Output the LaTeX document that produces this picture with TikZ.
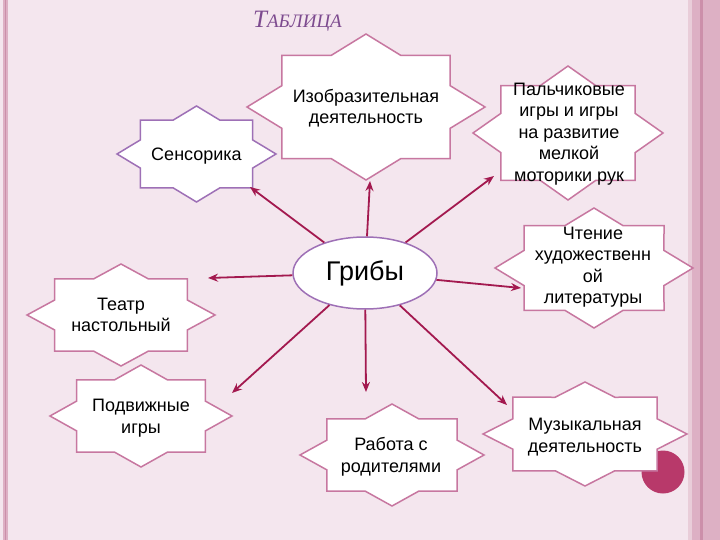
\documentclass[tikz,border=0pt]{standalone}
\usepackage{fontspec}
\setmainfont{Liberation Sans}
\newfontfamily\titlefont{Liberation Serif}
\usetikzlibrary{arrows.meta,shapes.geometric}
\definecolor{bg}{HTML}{F4E6EE}
\definecolor{stripeA}{HTML}{DDB0C4}
\definecolor{stripeB}{HTML}{CC8FAA}
\definecolor{stripeC}{HTML}{E9CDD9}
\definecolor{pinkline}{HTML}{C777A0}
\definecolor{purpline}{HTML}{9E70B6}
\definecolor{arrowc}{HTML}{A3194F}
\definecolor{dotc}{HTML}{B8396A}
\definecolor{titlec}{HTML}{7D4B8F}
\newcommand\eightstar[5]{%
  \draw[#1] ({#2+#4},{#3})
   \foreach \a/\f in {22.5/0.765,45/1,67.5/0.765,90/1,112.5/0.765,135/1,157.5/0.765,180/1,202.5/0.765,225/1,247.5/0.765,270/1,292.5/0.765,315/1,337.5/0.765}{ -- ({#2+\f*#4*cos(\a)},{#3+\f*#5*sin(\a)}) } -- cycle;}
\tikzset{
  pinkstar/.style={draw=pinkline,fill=white,line width=1.5pt,line join=miter},
  purpstar/.style={draw=purpline,fill=white,line width=1.5pt,line join=miter},
  lbl/.style={align=center,font=\fontsize{18}{21.5}\selectfont,inner sep=0pt},
  arr/.style={draw=arrowc,line width=1.8pt,-{Stealth[length=10pt,width=8pt]}},
}
\begin{document}
\begin{tikzpicture}[x=1pt,y=-1pt]
\useasboundingbox (0,0) rectangle (720,540);
\fill[bg] (0,0) rectangle (720,540);
% left stripes
\fill[stripeA] (3,0) rectangle (7.5,540);
\draw[stripeB,line width=0.8pt] (5,0) -- (5,540);
% right stripes
\fill[stripeC] (688,0) rectangle (692,540);
\fill[stripeA] (692,0) rectangle (720,540);
\fill[stripeB] (700,0) rectangle (703,540);
% title
\node[text=titlec,anchor=base west,inner sep=0pt] (title) at (253,28) {\titlefont\itshape\fontsize{25}{25}\selectfont Т\fontsize{19}{19}\selectfont АБЛИЦА};
% decorative circle
\fill[dotc] (663,472) circle (21.5);
% stars
\eightstar{purpstar}{196.5}{154}{79.5}{48}
\eightstar{pinkstar}{366}{107}{119}{73}
\eightstar{pinkstar}{568}{133}{95}{67}
\eightstar{pinkstar}{594}{268}{99}{60}
\eightstar{pinkstar}{121}{315}{94}{51}
\eightstar{pinkstar}{141}{416}{91}{51}
\eightstar{pinkstar}{392}{455}{92}{51}
\eightstar{pinkstar}{585}{434}{102}{52}
% labels
\node[lbl] (s1) at (196.5,156) {Сенсорика};
\node[lbl] (s2) at (366,108) {Изобразительная\\деятельность};
\node[lbl] (s3) at (569,134) {Пальчиковые\\игры и игры\\на развитие\\мелкой\\моторики рук};
\node[lbl] (s4) at (593,267) {Чтение\\художественн\\ой\\литературы};
\node[lbl] (s5) at (121,315) {Театр\\настольный};
\node[lbl] (s6) at (141,418) {Подвижные\\игры};
\node[lbl] (s7) at (391,457) {Работа с\\родителями};
\node[lbl] (s8) at (585,437) {Музыкальная\\деятельность};
% center
\node[ellipse,draw=purpline,fill=white,line width=1.5pt,minimum width=144pt,minimum height=72pt,inner sep=0pt,font=\fontsize{27}{27}\selectfont] (g) at (365,273) {Грибы};
% arrow ends
\coordinate (e1) at (250,187);
\coordinate (e2) at (370,181);
\coordinate (e3) at (494,176);
\coordinate (e4) at (521,288);
\coordinate (e5) at (208,278);
\coordinate (e6) at (232,393);
\coordinate (e7) at (366,392);
\coordinate (e8) at (507,405);
\foreach \e in {e1,e2,e3,e4,e5,e6,e7,e8}{\draw[arr] (g) -- (\e);}
\end{tikzpicture}
\end{document}
